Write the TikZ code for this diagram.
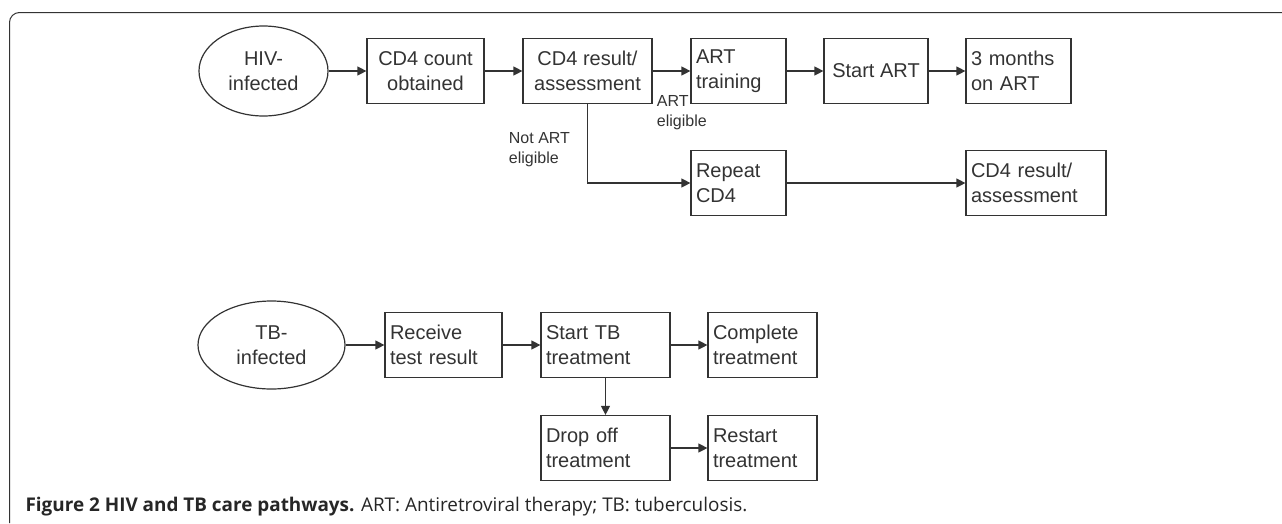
\documentclass[tikz,border=0pt]{standalone}
\usepackage{fontspec}
\setmainfont{Liberation Sans}
\newfontfamily\capfont{Open Sans}
\usetikzlibrary{shapes.geometric,arrows.meta}
\definecolor{ink}{gray}{0.2}

\begin{document}
\begin{tikzpicture}[x=1pt,y=-1pt,line width=1.2pt,color=ink,
        stage/.style={draw,rectangle,minimum height=65pt,inner sep=5pt,
            font=\fontsize{20}{25}\selectfont},
        cstage/.style={stage,align=center},
        lstage/.style={stage,align=left,text width=#1},
        origin/.style={draw,ellipse,inner sep=0pt,align=center,
            font=\fontsize{20}{25}\selectfont},
        flow/.style={-{Triangle[length=9pt,width=9pt]}},
        branch/.style={anchor=north west,align=left,
            font=\fontsize{16}{20}\selectfont}]
        \useasboundingbox (0,0) rectangle (1282,523);
        %% frame
        \draw[line width=1pt,rounded corners=10pt] (9.5,523) -- (9.5,12.5) -- (1282,12.5);
        %% HIV pathway
        \node[origin,minimum width=129pt,minimum height=90pt] (hiv) at (263.5,71) {HIV-\\infected};
        \node[cstage,minimum width=117pt] (cd4) at (425.5,71) {CD4 count\\obtained};
        \node[cstage,minimum width=129pt] (assess) at (587.5,71) {CD4 result/\\assessment};
        \node[lstage=85pt] (train) at (738.5,71) {ART\\training};
        \node[cstage,minimum width=104pt] (startart) at (876,71) {Start ART};
        \node[lstage=95pt] (months) at (1018.5,71) {3 months\\on ART};
        \node[lstage=85pt] (repeat) at (738.5,183) {Repeat\\CD4};
        \node[lstage=130pt] (reassess) at (1036,183) {CD4 result/\\assessment};
        \node[branch] (noelig) at (505,129) {Not ART\\eligible};
        \node[branch] (elig) at (653,92) {ART\\eligible};
        \draw[flow] (hiv) -- (cd4);
        \draw[flow] (cd4) -- (assess);
        \draw[flow] (assess) -- (train);
        \draw[flow] (train) -- (startart);
        \draw[flow] (startart) -- (months);
        \draw[flow] (assess.south) |- (repeat);
        \draw[flow] (repeat) -- (reassess);
        %% TB pathway
        \node[origin,minimum width=147pt,minimum height=88pt] (tb) at (271.5,345) {TB-\\infected};
        \node[lstage=107pt] (receive) at (443.5,345) {Receive\\test result};
        \node[lstage=119pt] (starttb) at (605.5,345) {Start TB\\treatment};
        \node[lstage=99pt] (complete) at (762.5,345) {Complete\\treatment};
        \node[lstage=119pt] (dropoff) at (605.5,448) {Drop off\\treatment};
        \node[lstage=99pt] (restart) at (762.5,448) {Restart\\treatment};
        \draw[flow] (tb) -- (receive);
        \draw[flow] (receive) -- (starttb);
        \draw[flow] (starttb) -- (complete);
        \draw[flow] (starttb) -- (dropoff);
        \draw[flow] (dropoff) -- (restart);
        %% caption
        \node[anchor=base west,inner sep=0pt,text=black!85,font=\capfont\fontsize{18.9}{22}\selectfont] (caption) at (25,511)
            {\textbf{Figure 2 HIV and TB care pathways.} ART: Antiretroviral therapy; TB: tuberculosis.};
\end{tikzpicture}
\end{document}
